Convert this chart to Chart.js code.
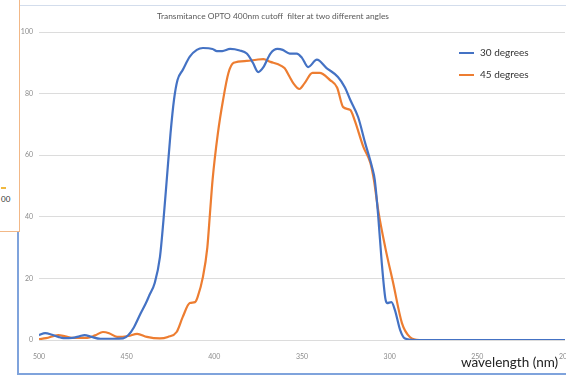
<!DOCTYPE html>
<html>
<head>
<meta charset="utf-8">
<script src="https://cdn.jsdelivr.net/npm/chart.js@4"></script>
<style>
  html, body { margin: 0; padding: 0; background: #fff; }
  body { width: 566px; height: 376px; overflow: hidden; position: relative; font-family: Lato, "Open Sans", sans-serif; }
  #wrap { position: absolute; left: 0; top: 0; width: 600px; height: 376px; }
  .frame { position: absolute; left: 17px; top: 5px; width: 560px; height: 367px; border-left: 2px solid #7fa3dc; border-bottom: 2px solid #7fa3dc; border-top: 1px solid #d3ddec; }
  .side { position: absolute; left: -10px; top: -2px; width: 28px; height: 232px; border: 1px solid #f2b887; background: #fff; }
  .side span { position: absolute; left: 10px; top: 195px; font-size: 8px; color: #333; }
  .side i { position: absolute; left: 10px; top: 188px; width: 5px; height: 2px; background: #f0b840; }
  #title { position: absolute; left: 157px; top: 11px; font-size: 8.4px; color: #595959; white-space: pre; }
  .leg { position: absolute; left: 459px; font-size: 10px; color: #333; white-space: nowrap; }
  .leg b { display: inline-block; width: 15px; height: 2px; vertical-align: middle; margin-right: 6px; }
  #xtitle { position: absolute; left: 461px; top: 354px; font-size: 13.5px; color: #222; white-space: nowrap; }
</style>
</head>
<body>
<div class="frame"></div>
<div class="side"><i></i><span>00</span></div>
<div id="wrap"><canvas id="chart"></canvas></div>
<div id="title">Transmitance OPTO 400nm cutoff  filter at two different angles</div>
<div class="leg" style="top:46px"><b style="background:#4472c4"></b>30 degrees</div>
<div class="leg" style="top:68px"><b style="background:#ed7d31"></b>45 degrees</div>
<div id="xtitle">wavelength (nm)</div>
<script>
// wavelength (nm) and transmittance (%)
const wl30 = [500, 496.5, 493, 489, 486, 481, 477, 474, 470, 465, 458, 452, 449, 446, 442, 439, 437, 434, 431, 429, 427, 425, 423, 421, 418, 414, 410, 406.5, 401, 398.5, 395.5, 391, 385.5, 381.5, 378, 375, 372, 368, 364, 361, 357, 353, 350, 346.5, 341.5, 336, 329.5, 325.5, 322.5, 318, 314, 310, 308.5, 306.5, 304.5, 302.5, 301.5, 299, 297, 294, 291.5, 285.5, 250, 200];
const t30 = [1.6, 2.2, 1.8, 1.0, 0.6, 0.7, 1.2, 1.6, 1.0, 0.4, 0.4, 0.5, 1.6, 4, 8.7, 12, 14.6, 18.5, 27, 39, 53, 67, 78, 84.4, 87.7, 92, 94.2, 94.8, 94.5, 93.8, 93.8, 94.5, 94, 93, 90, 87, 88.6, 93, 94.5, 94.2, 93, 93, 91.6, 88.6, 91, 88.3, 85.4, 82, 78, 72.4, 64, 56, 52, 40, 25, 13.6, 12, 12.3, 9.7, 3.2, 0.6, 0, 0, 0];

const wl45 = [500, 496, 489, 485, 480.5, 472.5, 468, 463.5, 460, 455.5, 449, 444, 438.5, 431, 426.5, 421.5, 418, 414, 411, 409.5, 406.5, 404, 402.5, 401, 398, 395, 392, 389, 381.5, 376, 372, 368, 364, 360, 357, 355, 351.5, 348.5, 344, 340, 334, 330, 326.5, 322.5, 320, 315, 311, 309, 306.5, 302.5, 298, 293, 288.5, 283, 250, 200];
const t45 = [0.3, 0.6, 1.6, 1.2, 0.7, 0.7, 1.5, 2.6, 2.2, 1.0, 1.3, 2.0, 1.0, 0.5, 1.0, 2.6, 7.5, 12, 12.3, 14, 20.5, 30, 41, 52, 67, 78, 86.6, 90, 90.6, 91, 91.2, 90.3, 89.6, 88.3, 85.4, 83.4, 81.5, 83.4, 86.7, 86.7, 84.4, 82, 75.6, 74.7, 71.4, 62.7, 57.5, 52, 42, 30, 18.5, 5.5, 1, 0, 0, 0];

const seriesNames = ['30 degrees', '45 degrees'];
const xTicks = [500, 450, 400, 350, 300, 250, 200];
const yTicks = [0, 20, 40, 60, 80, 100];

function pts(xs, ys) {
    return xs.map((x, i) => ({ x: x, y: ys[i] }));
}

const ctx = document.getElementById('chart').getContext('2d');
const chart = new Chart(ctx, {
    type: 'line',
    data: {
        datasets: [{
            label: seriesNames[0],
            data: pts(wl30, t30),
            borderColor: '#4472c4',
            borderWidth: 2.2,
            pointRadius: 0,
            tension: 0.4,
            cubicInterpolationMode: 'monotone',
            fill: false
        }, {
            label: seriesNames[1],
            data: pts(wl45, t45),
            borderColor: '#ed7d31',
            borderWidth: 2.2,
            pointRadius: 0,
            tension: 0.4,
            cubicInterpolationMode: 'monotone',
            fill: false
        }]
    },
    options: {
        responsive: true,
        maintainAspectRatio: false,
        animation: false,
        layout: { padding: { top: 32, right: 35, bottom: 0, left: 0 } },
        plugins: {
            legend: { display: false },
            title: { display: false },
            tooltip: { enabled: false }
        },
        scales: {
            x: {
                type: 'linear',
                reverse: true,
                min: 200,
                max: 500,
                grid: { display: false },
                border: { display: false },
                afterBuildTicks: (s) => { s.ticks = xTicks.map(v => ({ value: v })); },
                afterFit: (s) => { s.height = 36; },
                ticks: {
                    padding: 5,
                    maxRotation: 0,
                    autoSkip: false,
                    color: '#8c8c8c',
                    font: { family: 'Lato', size: 7 }
                }
            },
            y: {
                min: 0,
                max: 100,
                grid: { color: '#dcdcdc', lineWidth: 1, drawTicks: false },
                border: { display: false },
                afterBuildTicks: (s) => { s.ticks = yTicks.map(v => ({ value: v })); },
                afterFit: (s) => { s.width = 39; },
                ticks: {
                    padding: 6,
                    color: '#8c8c8c',
                    font: { family: 'Lato', size: 7 }
                }
            }
        }
    }
});
</script>
</body>
</html>
